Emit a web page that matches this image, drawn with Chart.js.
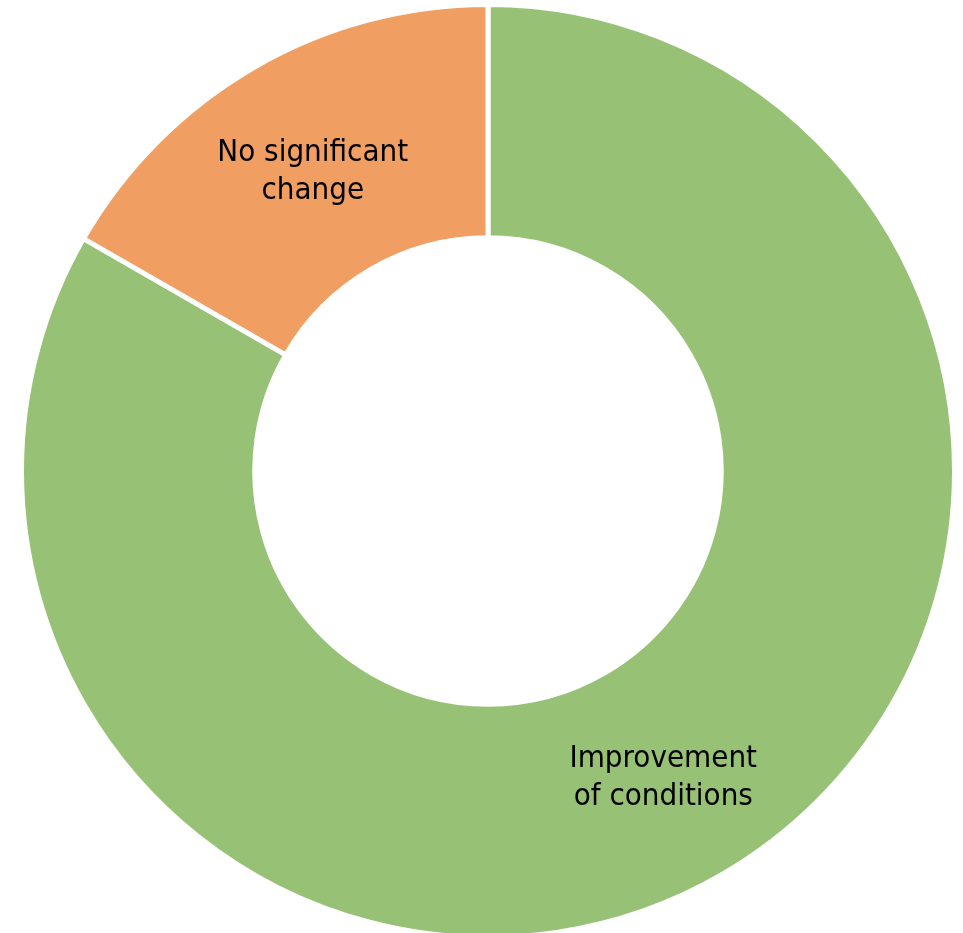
<!DOCTYPE html>
<html>
<head>
<meta charset="utf-8">
<script src="https://cdn.jsdelivr.net/npm/chart.js@4"></script>
<style>
  html, body { margin: 0; padding: 0; background: #fff; overflow: hidden; }
  #wrap { width: 963px; height: 945px; }
</style>
</head>
<body>
<div id="wrap"><canvas id="donut"></canvas></div>
<script>
const categories = ['Improvement of conditions', 'No significant change'];
const labelLines = [['Improvement', 'of conditions'], ['No significant', 'change']];
const shares = [83.3, 16.7];
const sliceColors = ['#97C175', '#F09E62'];

// draws the slice names at each arc's centre point
const sliceLabels = {
    id: 'sliceLabels',
    afterDatasetsDraw(chart) {
        const ctx = chart.ctx;
        const meta = chart.getDatasetMeta(0);
        ctx.save();
        ctx.fillStyle = '#000';
        ctx.font = '31px "DejaVu Sans Condensed", "DejaVu Sans", sans-serif';
        ctx.textAlign = 'center';
        ctx.textBaseline = 'middle';
        meta.data.forEach((arc, i) => {
            const p = arc.getCenterPoint();
            const lines = labelLines[i];
            const lh = 38;
            lines.forEach((t, j) => {
                ctx.fillText(t, p.x, p.y + 4 + (j - (lines.length - 1) / 2) * lh);
            });
        });
        ctx.restore();
    }
};

new Chart(document.getElementById('donut'), {
    type: 'doughnut',
    data: {
        labels: categories,
        datasets: [{
            data: shares,
            backgroundColor: sliceColors,
            borderColor: '#fff',
            borderWidth: 5,
            hoverOffset: 0
        }]
    },
    options: {
        responsive: true,
        maintainAspectRatio: false,
        animation: false,
        cutout: '50%',
        layout: { padding: { left: 19, top: 2, right: 6, bottom: 5 } },
        plugins: {
            legend: { display: false },
            tooltip: { enabled: false }
        }
    },
    plugins: [sliceLabels]
});
</script>
</body>
</html>
